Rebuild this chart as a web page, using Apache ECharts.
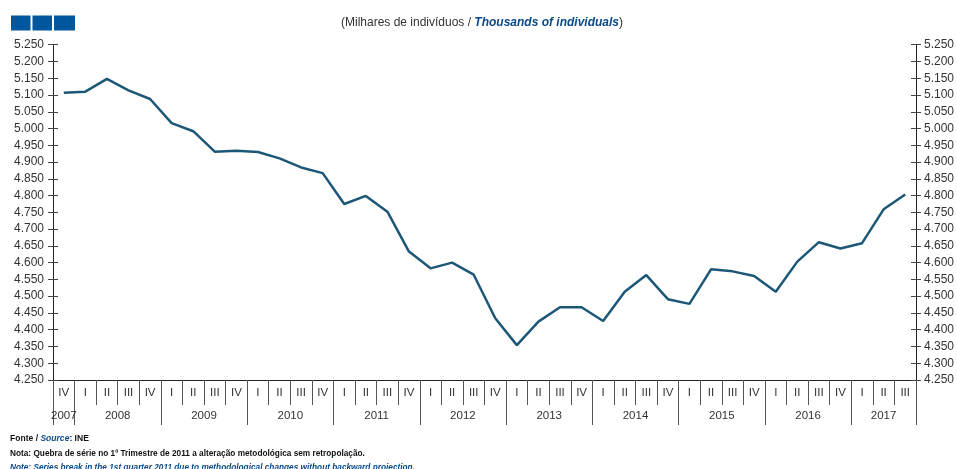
<!DOCTYPE html>
<html><head><meta charset="utf-8">
<script src="https://cdn.jsdelivr.net/npm/echarts@6/dist/echarts.min.js"></script>
<style>html,body{margin:0;padding:0;background:#fff}#c{width:957px;height:469px}</style>
</head><body><div id="c"></div>
<script>
const categories = [
  '2007 IV',
  '2008 I','2008 II','2008 III','2008 IV',
  '2009 I','2009 II','2009 III','2009 IV',
  '2010 I','2010 II','2010 III','2010 IV',
  '2011 I','2011 II','2011 III','2011 IV',
  '2012 I','2012 II','2012 III','2012 IV',
  '2013 I','2013 II','2013 III','2013 IV',
  '2014 I','2014 II','2014 III','2014 IV',
  '2015 I','2015 II','2015 III','2015 IV',
  '2016 I','2016 II','2016 III','2016 IV',
  '2017 I','2017 II','2017 III'
];
const values = [
  5107,
  5110, 5148, 5114, 5088,
  5016, 4992, 4931, 4934,
  4930, 4911, 4884, 4867,
  4775, 4799, 4752, 4633,
  4583, 4600, 4564, 4434,
  4354, 4424, 4467, 4467,
  4426, 4513, 4563, 4491,
  4477, 4580, 4574, 4560,
  4513, 4603, 4661, 4642,
  4658, 4759, 4803
];
const yMin = 4250, yMax = 5250, yStep = 50;

const quarterOf = c => c.split(' ')[1];
const yearOf = c => c.split(' ')[0];
const yearGroups = [];
categories.forEach((c, i) => {
  const y = yearOf(c);
  const g = yearGroups[yearGroups.length - 1];
  if (g && g.year === y) g.end = i + 1; else yearGroups.push({year: y, start: i, end: i + 1});
});
const yearCenters = yearGroups.map(g => (g.start + g.end) / 2);
const yearBounds = [0].concat(yearGroups.map(g => g.end));
const fmt = v => { const s = String(Math.round(v)); return s.slice(0, s.length - 3) + '.' + s.slice(-3); };

const font = "'Liberation Sans', Arial, sans-serif";
const axisCol = '#333';
const blue = '#0a4a8a';

const chart = echarts.init(document.getElementById('c'), null, {renderer: 'canvas'});
const yBase = {
  type: 'value', min: yMin, max: yMax, interval: yStep,
  splitLine: {show: false}
};
chart.setOption({
  animation: false,
  backgroundColor: '#fff',
  grid: {left: 53, right: 40, top: 44.7, bottom: 89, containLabel: false},
  xAxis: [
    {
      type: 'category', data: categories, boundaryGap: true, position: 'bottom',
      axisLine: {show: true, lineStyle: {color: '#222', width: 1}},
      axisTick: {show: true, interval: 0, length: 25, lineStyle: {color: '#555'}},
      axisLabel: {interval: 0, margin: 7, fontSize: 11.5, fontFamily: font, color: axisCol,
        formatter: v => quarterOf(v)},
      splitLine: {show: false}
    },
    {
      type: 'value', min: 0, max: categories.length, position: 'bottom',
      axisLine: {show: false},
      axisTick: {show: true, customValues: yearBounds, length: 45, lineStyle: {color: '#555'}},
      axisLabel: {customValues: yearCenters, margin: 30, fontSize: 11.5, fontFamily: font, color: axisCol,
        formatter: v => { const k = yearCenters.indexOf(v); return k >= 0 ? yearGroups[k].year : ''; }},
      splitLine: {show: false}
    }
  ],
  yAxis: [
    Object.assign({}, yBase, {position: 'left',
      axisLine: {show: true, lineStyle: {color: '#222'}},
      axisTick: {show: true, length: 5, lineStyle: {color: '#444'}},
      axisLabel: {margin: 9, fontSize: 12, fontFamily: font, color: axisCol, formatter: fmt}}),
    Object.assign({}, yBase, {position: 'left',
      axisLine: {show: false},
      axisTick: {show: true, inside: true, length: 5, lineStyle: {color: '#444'}},
      axisLabel: {show: false}}),
    Object.assign({}, yBase, {position: 'right',
      axisLine: {show: true, lineStyle: {color: '#222'}},
      axisTick: {show: true, length: 5, lineStyle: {color: '#444'}},
      axisLabel: {margin: 8, fontSize: 12, fontFamily: font, color: axisCol, formatter: fmt}}),
    Object.assign({}, yBase, {position: 'right',
      axisLine: {show: false},
      axisTick: {show: true, inside: true, length: 5, lineStyle: {color: '#444'}},
      axisLabel: {show: false}})
  ],
  series: [{
    type: 'line', data: values, xAxisIndex: 0, yAxisIndex: 0,
    symbol: 'none', smooth: false,
    lineStyle: {color: '#1d5777', width: 2.5},
    z: 5
  }],
  graphic: [
    {type: 'rect', shape: {x: 11, y: 15.5, width: 19.5, height: 15}, style: {fill: '#00579e'}},
    {type: 'rect', shape: {x: 32.5, y: 15.5, width: 19.5, height: 15}, style: {fill: '#00579e'}},
    {type: 'rect', shape: {x: 54, y: 15.5, width: 21, height: 15}, style: {fill: '#00579e'}},
    {type: 'text', x: 482, y: 23, style: {
      text: '{a|(Milhares de indivíduos / }{b|Thousands of individuals}{a|)}',
      align: 'center', verticalAlign: 'middle',
      rich: {
        a: {fontSize: 12, fontFamily: font, fill: '#333'},
        b: {fontSize: 12, fontFamily: font, fontWeight: 'bold', fontStyle: 'italic', fill: blue}
      }}},
    {type: 'text', x: 10, y: 438, scaleX: 0.9, style: {
      text: '{a|Fonte / }{b|Source}{a|: INE}', verticalAlign: 'middle',
      rich: {
        a: {fontSize: 9.5, fontFamily: font, fontWeight: 'bold', fill: '#111'},
        b: {fontSize: 9.5, fontFamily: font, fontWeight: 'bold', fontStyle: 'italic', fill: blue}
      }}},
    {type: 'text', x: 10, y: 453, scaleX: 0.87, style: {
      text: 'Nota: Quebra de série no 1º Trimestre de 2011 a alteração metodológica sem retropolação.',
      verticalAlign: 'middle', fontSize: 9.5, fontFamily: font, fontWeight: 'bold', fill: '#111'}},
    {type: 'text', x: 10, y: 467, scaleX: 0.87, style: {
      text: 'Note: Series break in the 1st quarter 2011 due to methodological changes without backward projection.',
      verticalAlign: 'middle', fontSize: 9.5, fontFamily: font, fontWeight: 'bold', fontStyle: 'italic', fill: blue}}
  ]
});
</script></body></html>
